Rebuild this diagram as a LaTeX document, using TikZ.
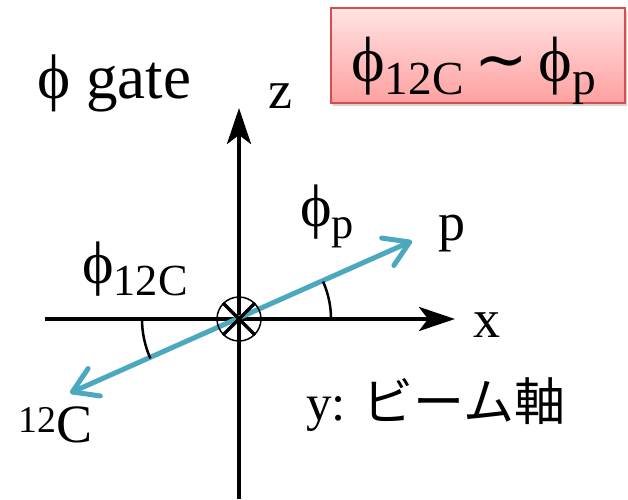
\documentclass[tikz,border=0pt]{standalone}
\usepackage{fontspec}
\setmainfont{Liberation Serif}
\newfontfamily\jpfont{Noto Sans CJK JP}
\newfontfamily\symfont{DejaVu Sans}
\usetikzlibrary{arrows.meta,shadows}
\definecolor{beamteal}{RGB}{75,168,190}
\definecolor{boxred}{RGB}{214,78,76}
\definecolor{boxtop}{RGB}{255,228,228}
\definecolor{boxbot}{RGB}{255,160,160}
\newcommand{\subtxt}[1]{\raisebox{-0.2em}{\scalebox{0.74}{#1}}}

\begin{document}
\begin{tikzpicture}[x=1pt,y=1pt,
  lbl/.style={inner sep=0pt,anchor=base west,font=\fontsize{54}{60}\selectfont},
  biglbl/.style={lbl,font=\fontsize{60}{64}\selectfont},
  axis/.style={line width=4pt,-{Stealth[length=36pt,width=24pt,inset=9pt]}},
  track/.style={beamteal,line width=5pt,line cap=round,
    {Straight Barb[length=24pt,width=30pt,line cap=round,line join=round]}-{Straight Barb[length=24pt,width=30pt,line cap=round,line join=round]}}]
  \useasboundingbox (0,0) rectangle (628,499);
  % axes
  \coordinate (O) at (239,180);
  \coordinate (xl) at (45,180);
  \coordinate (xr) at (455,180);
  \coordinate (zb) at (239,0);
  \coordinate (zt) at (239,391);
  \draw[axis] (xl) -- (xr);
  \draw[axis] (zb) -- (zt);
  % particle tracks
  \coordinate (cend) at (70,106);
  \coordinate (pend) at (412,258);
  \draw[track] (cend) -- (pend);
  \draw[line width=2.5pt] ([shift={(0:92)}]O) arc (0:24:92);
  \draw[line width=2.5pt] ([shift={(180:97)}]O) arc (180:204:97);
  % beam into the page
  \node[draw,circle,line width=1.5pt,minimum size=44pt,inner sep=0pt] (beam) at (O) {};
  \draw[line width=3.5pt] (beam.45) -- (beam.225);
  \draw[line width=3.5pt] (beam.135) -- (beam.-45);
  % labels
  \node[biglbl,font=\fontsize{63}{66}\selectfont] (title) at (37,400) {ϕ gate};
  \node[lbl] (zlab) at (268,391) {z};
  \node[lbl] (xlab) at (473,162) {x};
  \node[lbl] (plab) at (438,259) {p};
  \node[lbl] (clab) at (18,57) {\textsuperscript{12}C};
  \node[biglbl] (phip) at (300,273) {ϕ\subtxt{p}};
  \node[biglbl] (phic) at (82,216) {ϕ\subtxt{12C}};
  \node[lbl,font=\fontsize{51}{60}\selectfont] (beamlab) at (306,79) {y: {\jpfont ビーム軸}};
  \node[draw=boxred,line width=2pt,top color=boxtop,bottom color=boxbot,
    drop shadow={shadow xshift=2pt,shadow yshift=-3pt,opacity=0.35},
    minimum width=294pt,minimum height=95pt,inner sep=0pt] (cond) at (478,443.5) {};
  \node[biglbl,font=\fontsize{64}{66}\selectfont] (condtxt) at (351,417)
    {ϕ\subtxt{12C}\,{\symfont ∼}\,ϕ\subtxt{p}};
\end{tikzpicture}
\end{document}
